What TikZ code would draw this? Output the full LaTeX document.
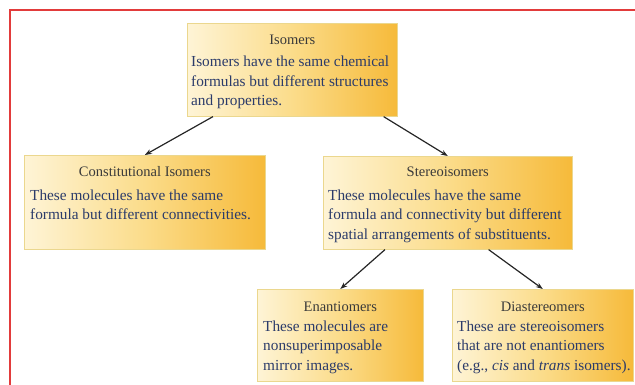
\documentclass[tikz,border=0pt]{standalone}
\usepackage{fontspec}
\setmainfont{Liberation Serif}
\usetikzlibrary{arrows.meta}

\definecolor{boxlight}{HTML}{FEF4D6}
\definecolor{boxmid}{HTML}{FBDC8A}
\definecolor{boxdark}{HTML}{F6BA3A}
\definecolor{boxline}{HTML}{EBD78E}
\definecolor{headgray}{HTML}{3A3A3A}
\definecolor{bodyblue}{HTML}{2B3B6A}
\definecolor{framered}{HTML}{E23B3B}

\tikzset{
  isobox/.style={rectangle, draw=boxline, line width=0.6pt, left color=boxlight,
    right color=boxdark, middle color=boxmid, inner sep=0pt, anchor=north west},
  head/.style={anchor=base, inner sep=0pt, text=headgray, font=\fontsize{14.5}{19.5}\selectfont},
  body/.style={anchor=base west, inner sep=0pt, text=bodyblue, align=left,
    font=\fontsize{15.3}{19.5}\selectfont},
  arr/.style={-{Stealth[length=7pt,width=5pt]}, line width=1.2pt, black!85}
}

\begin{document}
\begin{tikzpicture}[x=1pt,y=-1pt]
\useasboundingbox (0,0) rectangle (635,385);
\draw[framered, line width=1.4pt] (10,385) -- (10,10) -- (635,10);
% boxes
\node[isobox, minimum width=210pt, minimum height=93pt] (iso) at (187,23) {};
\node[isobox, minimum width=241pt, minimum height=94pt] (con) at (24,155) {};
\node[isobox, minimum width=249pt, minimum height=93pt] (ste) at (323,156) {};
\node[isobox, minimum width=166pt, minimum height=92pt] (ena) at (257,289) {};
\node[isobox, minimum width=181pt, minimum height=92pt] (dia) at (452,289) {};
% titles
\node[head] (iso-h) at ([yshift=-22pt]iso.north) {Isomers};
\node[head] (con-h) at ([yshift=-22pt]con.north) {Constitutional Isomers};
\node[head] (ste-h) at ([yshift=-21pt]ste.north) {Stereoisomers};
\node[head] (ena-h) at ([yshift=-22pt]ena.north) {Enantiomers};
\node[head] (dia-h) at ([yshift=-22pt]dia.north) {Diastereomers};
% texts (base = last line)
\node[body] (iso-b) at ([shift={(4pt,-83pt)}]iso.north west)
  {Isomers have the same chemical\\formulas but different structures\\and properties.};
\node[body] (con-b) at ([shift={(6pt,-64.5pt)}]con.north west)
  {These molecules have the same\\formula but different connectivities.};
\node[body] (ste-b) at ([shift={(5pt,-83pt)}]ste.north west)
  {These molecules have the same\\formula and connectivity but different\\spatial arrangements of substituents.};
\node[body] (ena-b) at ([shift={(6pt,-81pt)}]ena.north west)
  {These molecules are\\nonsuperimposable\\mirror images.};
\node[body] (dia-b) at ([shift={(5pt,-81pt)}]dia.north west)
  {These are stereoisomers\\that are not enantiomers\\(e.g., \textit{cis} and \textit{trans} isomers).};
% arrows
\draw[arr] ([xshift=26pt]iso.south west) -- (con.north);
\draw[arr] ([xshift=-14pt]iso.south east) -- (ste.north);
\draw[arr] ([xshift=62pt]ste.south west) -- (ena.north);
\draw[arr] ([xshift=-84pt]ste.south east) -- (dia.north);
\end{tikzpicture}
\end{document}
